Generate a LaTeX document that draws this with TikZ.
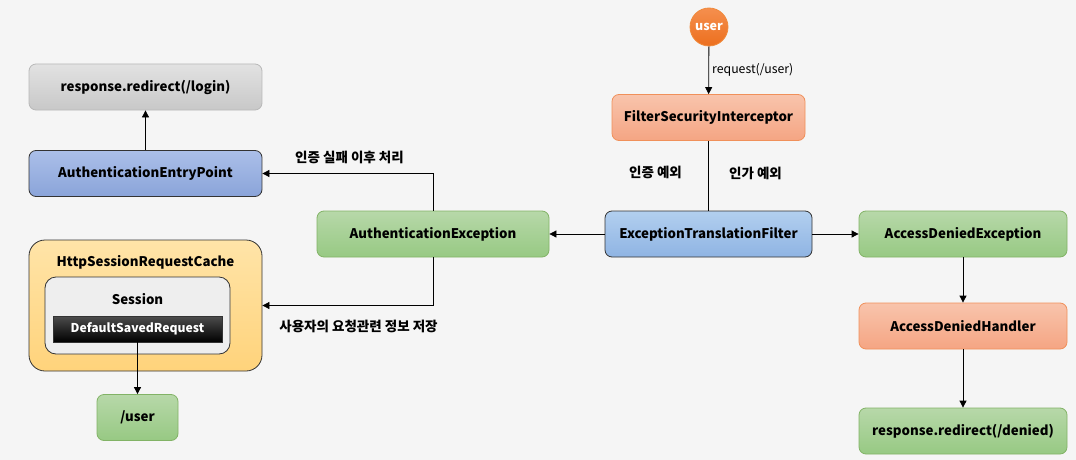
\documentclass[tikz,border=0pt]{standalone}
\usepackage{fontspec}
\setmainfont{Noto Sans CJK KR}
\usetikzlibrary{arrows.meta}
\definecolor{bgc}{HTML}{F5F5F5}
\definecolor{grayT}{HTML}{E2E2E2}\definecolor{grayB}{HTML}{C8C8C8}\definecolor{grayD}{HTML}{B8B8B8}
\definecolor{blueT}{HTML}{ABBFE9}\definecolor{blueB}{HTML}{8AA4D9}
\definecolor{lblueT}{HTML}{B2CFEF}\definecolor{lblueB}{HTML}{8FB4E3}
\definecolor{greenT}{HTML}{B7D8A9}\definecolor{greenB}{HTML}{97C983}\definecolor{greenD}{HTML}{82B366}
\definecolor{salT}{HTML}{F8C4AC}\definecolor{salB}{HTML}{F5A583}\definecolor{salD}{HTML}{F0905A}
\definecolor{orT}{HTML}{F58F4E}\definecolor{orB}{HTML}{EC6F1E}\definecolor{orD}{HTML}{F08A3C}
\definecolor{yelT}{HTML}{FFE4A8}\definecolor{yelB}{HTML}{FFD37B}
\definecolor{sessC}{HTML}{EEEEEE}
\definecolor{darkD}{HTML}{333333}
\begin{document}
\begin{tikzpicture}[x=1pt,y=-1pt,
  base/.style={rounded corners=7pt,minimum height=46pt,inner sep=0pt,font=\fontsize{13.3}{15}\selectfont\bfseries,line width=0.8pt},
  graybox/.style={base,top color=grayT,bottom color=grayB,draw=grayD},
  bluebox/.style={base,top color=blueT,bottom color=blueB,draw=darkD},
  lbluebox/.style={base,top color=lblueT,bottom color=lblueB,draw=darkD},
  greenbox/.style={base,top color=greenT,bottom color=greenB,draw=greenD},
  salbox/.style={base,top color=salT,bottom color=salB,draw=salD},
  lbl/.style={font=\fontsize{13.5}{15}\selectfont\bfseries,inner sep=0pt},
  arr/.style={-{Triangle[length=7pt,width=7pt]},line width=0.8pt}
]
\useasboundingbox (0,0) rectangle (1076,460);
\fill[bgc] (0,0) rectangle (1076,460);

% left column
\node[graybox,minimum width=233pt] (login) at (145.5,87) {response.redirect(/login)};
\node[bluebox,minimum width=233pt] (aep) at (145.5,173.5) {AuthenticationEntryPoint};
\node[base,rounded corners=16pt,minimum width=233pt,minimum height=131pt,top color=yelT,bottom color=yelB,draw=darkD] (hsrc) at (145.5,305.5) {};
\node[font=\fontsize{13.3}{15}\selectfont\bfseries,inner sep=0pt] (hsrct) at (145.5,262) {HttpSessionRequestCache};
\node[base,rounded corners=11pt,minimum width=185pt,minimum height=77pt,fill=sessC,draw=darkD] (sess) at (137.5,315.5) {};
\node[font=\fontsize{13.3}{15}\selectfont\bfseries,inner sep=0pt] (sesst) at (137.5,299) {Session};
\node[base,rounded corners=0pt,minimum width=169pt,minimum height=26pt,top color=black!70,bottom color=black,draw=darkD,text=white,font=\fontsize{12.2}{14}\selectfont\bfseries] (dsr) at (137.5,329) {DefaultSavedRequest};
\node[greenbox,minimum width=81pt] (usr) at (137.5,417.5) {/user};

% middle
\node[greenbox,minimum width=232pt] (authex) at (433,234) {AuthenticationException};
\node[lbluebox,minimum width=207pt] (etf) at (708.5,234) {ExceptionTranslationFilter};
\node[salbox,minimum width=193pt] (fsi) at (708.5,117.5) {FilterSecurityInterceptor};
\node[circle,minimum size=38pt,inner sep=0pt,top color=orT,bottom color=orB,draw=orD,line width=0.8pt,text=white,font=\fontsize{12.5}{14}\selectfont\bfseries] (user) at (709,27) {user};

% right column
\node[greenbox,minimum width=208pt] (ade) at (963,234) {AccessDeniedException};
\node[salbox,minimum width=208pt] (adh) at (963,326) {AccessDeniedHandler};
\node[greenbox,minimum width=208pt] (den) at (963,431) {response.redirect(/denied)};

% connectors
\draw[arr] (user) -- node[inner sep=0pt,right=3pt,font=\fontsize{12.3}{14}\selectfont] (req) {request(/user)} (fsi);
\draw[line width=0.8pt] (fsi) -- (etf);
\node[lbl] (l1) at (655.5,172) {인증 예외};
\node[lbl] (l2) at (755.5,173) {인가 예외};
\draw[arr] (etf) -- (authex);
\draw[arr] (etf) -- (ade);
\draw[arr] (ade) -- (adh);
\draw[arr] (adh) -- (den);
\draw[arr] (aep) -- (login);
\draw[arr] (dsr) -- (usr);
\draw[arr] (authex.north) |- (aep.east);
\draw[arr] (authex.south) |- (hsrc.east);
\node[lbl] (l3) at (349.5,157) {인증 실패 이후 처리};
\node[lbl] (l4) at (358.5,326) {사용자의 요청관련 정보 저장};
\end{tikzpicture}
\end{document}
